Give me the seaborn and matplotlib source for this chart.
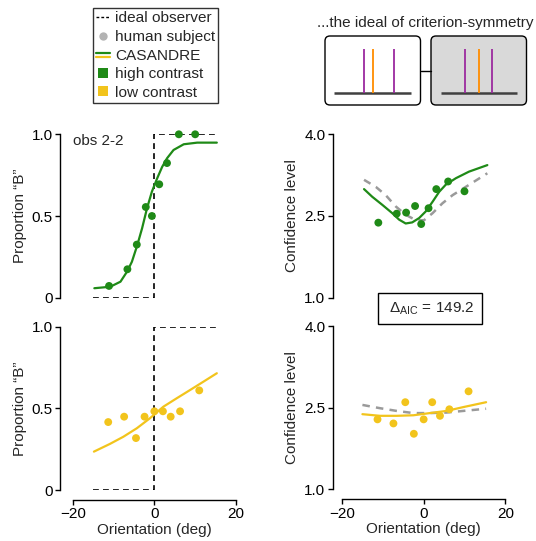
import numpy as np
import pandas as pd
import seaborn as sns
import matplotlib.pyplot as plt
from matplotlib.lines import Line2D
from matplotlib.patches import FancyBboxPatch
from matplotlib.legend_handler import HandlerBase

# ---- data ----
# high contrast: human subject
hi_ori = [-11.1, -6.6, -4.3, -2.1, -0.6, 1.2, 3.1, 6.0, 10.0]
hi_pB = [0.072, 0.174, 0.325, 0.555, 0.50, 0.694, 0.824, 1.0, 1.0]
hi_conf = [2.375, 2.54, 2.56, 2.68, 2.35, 2.64, 2.99, 3.13, 2.95]

# low contrast: human subject
lo_ori = [-11.3, -7.4, -4.5, -2.4, 0.0, 2.1, 4.0, 6.3, 11.0]
lo_pB = [0.416, 0.449, 0.318, 0.449, 0.482, 0.482, 0.449, 0.482, 0.61]
lo_conf = [2.285, 2.21, 2.60, 2.02, 2.285, 2.60, 2.35, 2.47, 2.80]

# CASANDRE fits
fit_hi_pB_x = [-14.7, -10.8, -8.3, -6.7, -5.5, -4.2, -3.0, -1.8, -0.6, 0.7, 1.9, 3.1, 4.7, 7.2, 10.5, 15.3]
fit_hi_pB_y = [0.058, 0.067, 0.098, 0.159, 0.22, 0.32, 0.425, 0.547, 0.649, 0.731, 0.80, 0.853, 0.904, 0.939, 0.949, 0.949]
fit_lo_pB_x = [-14.8, -10.9, -7.6, -4.3, -1.1, 2.2, 5.5, 8.8, 12.0, 15.3]
fit_lo_pB_y = [0.235, 0.282, 0.326, 0.378, 0.439, 0.51, 0.562, 0.613, 0.663, 0.715]

fit_hi_conf_x = [-14.6, -12.6, -10.1, -7.7, -6.0, -4.4, -2.8, -1.1, 0.5, 2.2, 3.8, 5.4, 7.9, 11.1, 15.6]
fit_hi_conf_y = [2.99, 2.85, 2.70, 2.55, 2.43, 2.36, 2.38, 2.46, 2.58, 2.76, 2.94, 3.07, 3.19, 3.31, 3.43]
fit_lo_conf_x = [-15.0, -10.7, -6.6, -2.5, 1.5, 5.6, 9.7, 15.3]
fit_lo_conf_y = [2.38, 2.35, 2.35, 2.36, 2.40, 2.44, 2.51, 2.60]

# criterion-symmetry ideal (gray dashed)
sym_hi_x = [-14.6, -11.7, -9.3, -6.8, -4.4, -1.9, 0.1, 2.2, 4.6, 7.1, 10.3, 15.6]
sym_hi_y = [3.16, 3.03, 2.88, 2.67, 2.52, 2.42, 2.42, 2.55, 2.73, 2.88, 3.03, 3.28]
sym_lo_x = [-15.0, -10.7, -6.6, -2.5, 1.5, 5.6, 9.7, 15.3]
sym_lo_y = [2.55, 2.49, 2.44, 2.40, 2.40, 2.41, 2.44, 2.48]

# ideal observer
ideal_x = [-15, 0, 0, 15]
ideal_y = [0, 0, 1, 1]

# schematic: criteria positions in the two boxes
white_purple = [44.0, 74.3]
white_orange = [52.7]
gray_purple = [145.0, 172.0]
gray_orange = [158.7]

delta_aic = 149.2

green = '#1f8a17'
yellow = '#f2c41c'
gray_pt = '#b3b3b3'
gray_dash = '#9a9a9a'
purple = '#9b2a9f'
orange = '#ff8c00'

sns.set_style('ticks')
plt.rcParams['font.family'] = ['Liberation Sans', 'DejaVu Sans']
plt.rcParams['mathtext.fontset'] = 'custom'
plt.rcParams['mathtext.rm'] = 'Liberation Sans'
plt.rcParams['mathtext.it'] = 'Liberation Sans:italic'
plt.rcParams['font.size'] = 11
plt.rcParams['axes.linewidth'] = 1.0
plt.rcParams['xtick.major.size'] = 3.5
plt.rcParams['ytick.major.size'] = 3.5
plt.rcParams['xtick.major.width'] = 1.0
plt.rcParams['ytick.major.width'] = 1.0
plt.rcParams['xtick.color'] = 'black'
plt.rcParams['ytick.color'] = 'black'
plt.rcParams['axes.edgecolor'] = 'black'

W, H = 536, 541
fig = plt.figure(figsize=(W / 100, H / 100), dpi=100)


def frac(x0, y_top, w, h):
    return [x0 / W, 1 - (y_top + h) / H, w / W, h / H]


ax_tl = fig.add_axes(frac(72.7, 134.3, 163.3, 163.4))
ax_bl = fig.add_axes(frac(72.7, 326.7, 163.3, 163.3))
ax_tr = fig.add_axes(frac(342.0, 134.0, 163.3, 163.7))
ax_br = fig.add_axes(frac(342.0, 326.0, 163.3, 163.3))

# proportion panels
for ax, fx, fy, px, py, col in [(ax_tl, fit_hi_pB_x, fit_hi_pB_y, hi_ori, hi_pB, green),
                                (ax_bl, fit_lo_pB_x, fit_lo_pB_y, lo_ori, lo_pB, yellow)]:
    sns.lineplot(x=ideal_x, y=ideal_y, ax=ax, color='black', lw=1.2,
                 linestyle=(0, (3.5, 2.5)), estimator=None, sort=False)
    sns.lineplot(x=fx, y=fy, ax=ax, color=col, lw=1.6, estimator=None, sort=False)
    sns.scatterplot(x=px, y=py, ax=ax, color=col, s=32, edgecolor='none',
                    clip_on=False, zorder=3)
    ax.set_ylim(0, 1)
    ax.set_yticks([0, 0.5, 1.0])
    ax.set_yticklabels(['0', '0.5', '1.0'])
    ax.set_ylabel('Proportion \u201cB\u201d', labelpad=3)

# confidence panels
for ax, fx, fy, sx, sy, px, py, col in [
        (ax_tr, fit_hi_conf_x, fit_hi_conf_y, sym_hi_x, sym_hi_y, hi_ori, hi_conf, green),
        (ax_br, fit_lo_conf_x, fit_lo_conf_y, sym_lo_x, sym_lo_y, lo_ori, lo_conf, yellow)]:
    sns.lineplot(x=sx, y=sy, ax=ax, color=gray_dash, lw=1.8,
                 linestyle=(0, (3, 2.5)), estimator=None, sort=False)
    sns.lineplot(x=fx, y=fy, ax=ax, color=col, lw=1.6, estimator=None, sort=False)
    sns.scatterplot(x=px, y=py, ax=ax, color=col, s=32, edgecolor='none',
                    clip_on=False, zorder=3)
    ax.set_ylim(1, 4)
    ax.set_yticks([1.0, 2.5, 4.0])
    ax.set_yticklabels(['1.0', '2.5', '4.0'])
    ax.set_ylabel('Confidence level')

for ax in (ax_tl, ax_bl, ax_tr, ax_br):
    ax.set_xlim(-20, 20)
    ax.set_facecolor('none')
    ax.tick_params(labelsize=11, pad=2)

for ax in (ax_tl, ax_tr):
    sns.despine(ax=ax, bottom=True)
    ax.set_xticks([])
for ax in (ax_bl, ax_br):
    sns.despine(ax=ax)
    ax.set_xticks([-20, 0, 20])
    ax.set_xticklabels(['\u221220', '0', '20'])
    ax.set_xlabel('Orientation (deg)', labelpad=1)
    ax.spines['bottom'].set_position(('outward', 7))

ax_tl.spines['left'].set_position(('outward', 9))
ax_bl.spines['left'].set_position(('outward', 9))
ax_tr.spines['left'].set_position(('outward', 6.5))
ax_br.spines['left'].set_position(('outward', 6.5))

ax_tl.text(0.0, 0.962, 'obs 2-2', transform=ax_tl.transAxes, ha='left', va='center', fontsize=11)

fig.text(430 / W, 1 - 308.5 / H, ' ' + r'$\Delta_{\mathrm{AIC}}$' + f' = {delta_aic} ', ha='center',
         va='center', fontsize=11,
         bbox=dict(boxstyle='square,pad=0.45', fc='white', ec='black', lw=1.0))

# legend
class Casandre:
    pass


class HandlerTwoLines(HandlerBase):
    def create_artists(self, legend, orig_handle, xdescent, ydescent, width, height, fontsize, trans):
        top = Line2D([-xdescent, width - xdescent], [0.6 * height - ydescent] * 2, color=green, lw=1.6)
        bot = Line2D([-xdescent, width - xdescent], [0.2 * height - ydescent] * 2, color=yellow, lw=1.6)
        top.set_transform(trans)
        bot.set_transform(trans)
        return [top, bot]


handles = [Line2D([], [], color='black', lw=1.0, linestyle=(0, (2, 1.5))),
           Line2D([], [], color=gray_pt, marker='o', ms=6, lw=0, markeredgewidth=0),
           Casandre(),
           Line2D([], [], color=green, marker='s', ms=6.5, lw=0, markeredgewidth=0),
           Line2D([], [], color=yellow, marker='s', ms=6.5, lw=0, markeredgewidth=0)]
labels = ['ideal observer', 'human subject', 'CASANDRE', 'high contrast', 'low contrast']
leg = fig.legend(handles, labels, loc='upper left', bbox_to_anchor=(93 / W, 1 - 8 / H),
                 handler_map={Casandre: HandlerTwoLines()}, fontsize=11.1, frameon=True,
                 fancybox=False, edgecolor='black', handlelength=0.9, handletextpad=0.3,
                 labelspacing=0.3, borderpad=0.22, borderaxespad=0)
leg.get_frame().set_linewidth(1.0)

# schematic inset
fig.text(425.5 / W, 1 - 22.5 / H, '...the ideal of criterion-symmetry', ha='center', va='center', fontsize=11)
ax_in = fig.add_axes(frac(320, 30, 210, 80))
ax_in.set_xlim(0, 210)
ax_in.set_ylim(80, 0)
ax_in.axis('off')
for x0, fc in [(5, 'white'), (111, '#d9d9d9')]:
    ax_in.add_patch(FancyBboxPatch((x0, 6), 95.5, 69, boxstyle='round,pad=0,rounding_size=5',
                                   fc=fc, ec='black', lw=1.0))
ax_in.plot([100.5, 111], [40.7, 40.7], color='black', lw=1.0)
ax_in.hlines(63.3, 14.3, 90.7, color='#404040', lw=1.8)
ax_in.hlines(63.3, 120.7, 196.7, color='#404040', lw=1.8)
ax_in.vlines(white_purple + gray_purple, 19, 63.3, color=purple, lw=1.3)
ax_in.vlines(white_orange + gray_orange, 19, 63.3, color=orange, lw=1.3)

fig.savefig('out.png', dpi=100)
